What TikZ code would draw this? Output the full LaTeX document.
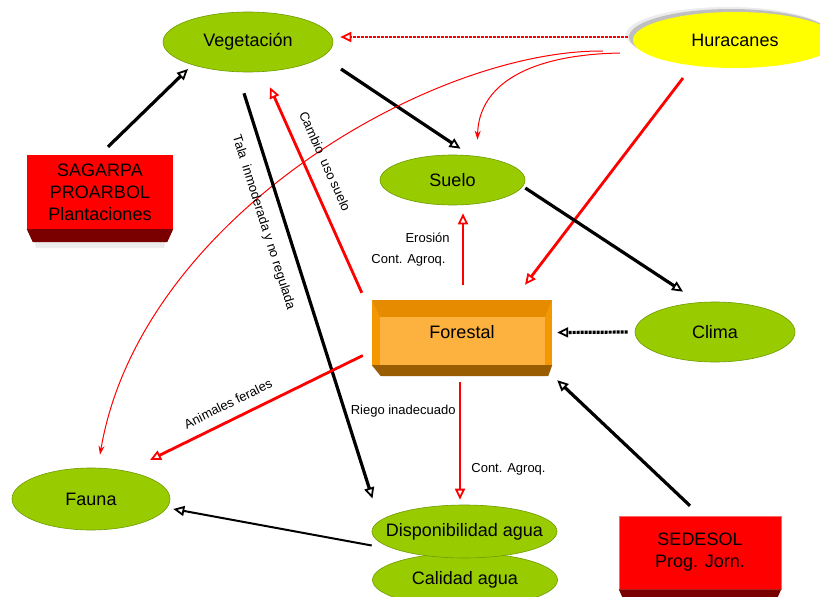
\documentclass[tikz,border=0pt]{standalone}
\usepackage{fontspec}
\setmainfont{Liberation Sans}
\usetikzlibrary{arrows.meta,calc,shapes.geometric,shadows}

\definecolor{leaf}{HTML}{99CC00}
\definecolor{leafedge}{HTML}{6F9A00}
\definecolor{hot}{HTML}{FF0000}
\definecolor{deepred}{HTML}{7A0000}
\definecolor{orgout}{HTML}{F39800}
\definecolor{orgtop}{HTML}{E68A00}
\definecolor{orgface}{HTML}{FDB13F}
\definecolor{orgbot}{HTML}{9A5C00}
\definecolor{sun}{HTML}{FFFF00}

\begin{document}
\begin{tikzpicture}[x=1pt,y=-1pt,
  oval/.style={ellipse, fill=leaf, draw=leafedge, line width=0.6pt, inner sep=0pt,
    font=\fontsize{18}{21}\selectfont},
  redbox/.style={rectangle, fill=hot, inner sep=0pt, align=center,
    font=\fontsize{18}{22}\selectfont},
  crate/.style={rectangle, inner sep=0pt, fill=orgout, font=\fontsize{18}{21}\selectfont,
    path picture={
      \fill[orgtop] (path picture bounding box.north west) -- (path picture bounding box.north east)
        -- ([xshift=-7pt,yshift=-17pt]path picture bounding box.north east)
        -- ([xshift=8pt,yshift=-17pt]path picture bounding box.north west) -- cycle;
      \fill[orgface] ([xshift=8pt,yshift=-17pt]path picture bounding box.north west)
        rectangle ([xshift=-7pt]path picture bounding box.south east);
    }},
  lbl/.style={font=\fontsize{13}{15}\selectfont, inner sep=1pt, text=black},
  tip/.style={-{Triangle[open,length=11pt,width=10pt,line width=1.8pt]}},
  blk/.style={tip, line width=3.2pt, black},
  blkthin/.style={tip, line width=2pt, black},
  redline/.style={tip, line width=2.8pt, hot},
  dotty/.style={dash pattern=on 3pt off 1pt},
  thinred/.style={-{Stealth[length=9pt,width=6pt]}, line width=1pt, hot},
]
\useasboundingbox (0,0) rectangle (820,597);
\fill[white] (0,0) rectangle (820,597);

% ---- nodes ----
\node[oval, minimum width=170pt, minimum height=60pt] (veg) at (248,42) {Vegetación};
\node[ellipse, fill=sun, inner sep=0pt, minimum width=204pt, minimum height=56pt,
      font=\fontsize{18}{21}\selectfont,
      general shadow={shadow xshift=-7pt, shadow yshift=5pt, fill=gray!15},
      general shadow={shadow xshift=-4pt, shadow yshift=3pt, fill=gray!50}]
      (hur) at (735,40) {Huracanes};
\node[oval, minimum width=145pt, minimum height=50pt] (suelo) at (452.5,180) {Suelo};
\node[crate, minimum width=180pt, minimum height=65pt] (forestal) at (462,332.5) {Forestal};
\fill[orgbot] (forestal.south west) -- (forestal.south east)
  -- ([xshift=-4pt,yshift=-11pt]forestal.south east)
  -- ([xshift=9pt,yshift=-11pt]forestal.south west) -- cycle;
\node[oval, minimum width=160pt, minimum height=60pt] (clima) at (715,332) {Clima};

\node[redbox, minimum width=146pt, minimum height=74pt] (sag) at (100,192)
  {\raisebox{-2pt}{SAGARPA}\\\raisebox{-2pt}{PROARBOL}\\\raisebox{-2pt}{Plantaciones}};
\fill[gray!15] ([xshift=6pt]sag.south west) -- ([xshift=-6pt]sag.south east)
  -- ([xshift=-9pt,yshift=-19pt]sag.south east)
  -- ([xshift=9pt,yshift=-19pt]sag.south west) -- cycle;
\fill[deepred] (sag.south west) -- (sag.south east)
  -- ([xshift=-6pt,yshift=-13pt]sag.south east)
  -- ([xshift=6pt,yshift=-13pt]sag.south west) -- cycle;

\node[oval, minimum width=158pt, minimum height=62pt] (fauna) at (91,499) {Fauna};
\node[oval, minimum width=185pt, minimum height=54pt] (cal) at (465,580) {Calidad agua};
\node[oval, inner xsep=-15pt, minimum width=185pt, minimum height=53pt] (disp) at (464.5,531.5)
  {Disponibilidad agua};

\node[redbox, draw=hot!60, line width=0.5pt, minimum width=162pt, minimum height=73pt]
  (sedesol) at (700,552.5) {\raisebox{-3pt}{SEDESOL}\\\raisebox{-3pt}{Prog. Jorn.}};
\fill[deepred] (sedesol.south west) -- (sedesol.south east)
  -- ([xshift=-4pt,yshift=-9pt]sedesol.south east)
  -- ([xshift=4pt,yshift=-9pt]sedesol.south west) -- cycle;

% ---- connectors ----
\draw[blk] ($(sag.north)+(8,-8)$) -- ($(veg.center)+(-60,27)$);
\draw[redline, dotty] ($(hur.west)+(-5,-3)$) -- ($(veg.east)+(7,-5)$);
\draw[blk] ($(veg.center)+(93,27)$) -- ($(suelo.north)+(8,-6)$);
\draw[thinred] ($(hur.west)+(-13,13)$) .. controls ($(hur.west)+(-113,15)$) and ($(suelo.north)+(26,-65)$) .. ($(suelo.north)+(25,-15)$);
\draw[thinred] ($(hur.west)+(-30,11)$) .. controls ($(hur.west)+(-203,10)$) and ($(fauna.north)+(49,-248)$) .. ($(fauna.north)+(9,-13)$);
\draw[redline] ($(hur.center)+(-52,38)$) -- ($(forestal.north)+(63,-15)$);
\draw[blk] ($(suelo.east)+(0,8)$) -- ($(clima.north)+(-32,-10)$);
\draw[blk, dotty] ($(clima.west)+(-7,0)$) -- ($(forestal.east)+(5,0)$);
\draw[blk] ($(sedesol.north)+(-10,-10)$) -- ($(forestal.south east)+(5,15)$);
\draw[redline] ($(forestal.north)+(1,-15)$) -- ($(suelo.south)+(10.5,8)$)
  node[lbl, pos=0.347, left=15pt] {Cont. Agroq.}
  node[lbl, pos=0.653, left=11pt] {Erosión};
\draw[redline] ($(forestal.north west)+(-10,-7)$) -- ($(veg.south)+(22,15)$)
  node[lbl, pos=0.6, sloped, above=13pt] {Cambio\ \ uso suelo};
\draw[blk] ($(veg.south)+(-4,21)$) -- ($(disp.center)+(-92,-33)$)
  node[lbl, pos=0.304, sloped, below=12pt] {Tala\ \ inmoderada y no regulada};
\draw[redline] ($(forestal.west)+(-9,23)$) -- ($(fauna.center)+(59,-39)$)
  node[lbl, pos=0.6, sloped, above=9pt] {Animales ferales};
\draw[redline] ($(forestal.south)+(-2,17)$) -- ($(disp.north)+(-4.5,-5)$)
  node[lbl, pos=0.25, left=2pt] {Riego inadecuado}
  node[lbl, pos=0.74, right=9pt] {Cont. Agroq.};
\draw[blkthin] ($(disp.west)+(0,14)$) -- ($(fauna.east)+(3,10)$);
\end{tikzpicture}
\end{document}
